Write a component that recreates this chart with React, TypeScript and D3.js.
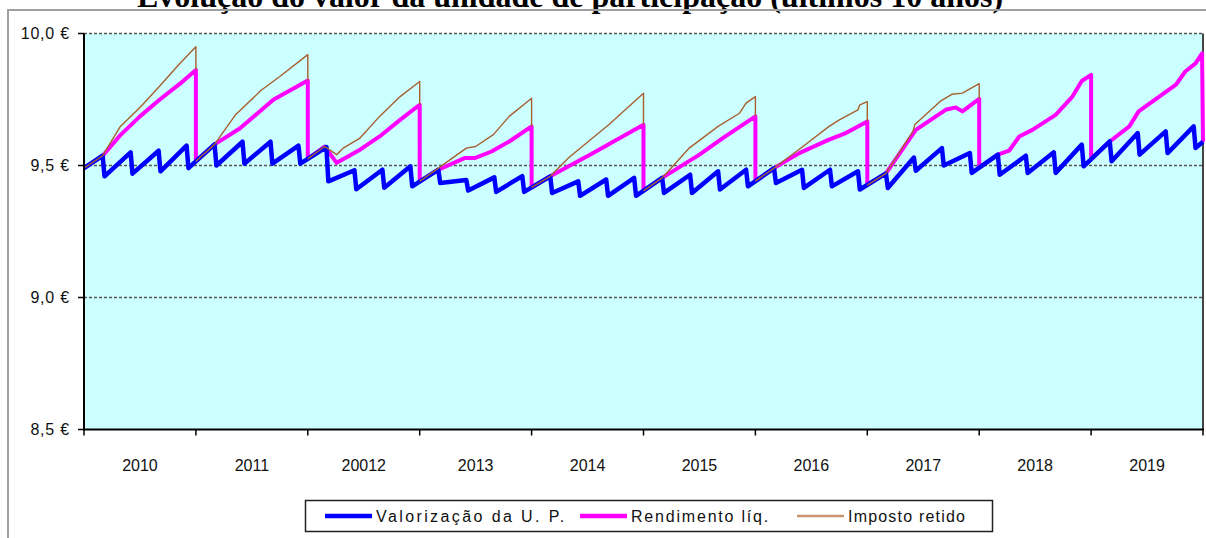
import * as d3 from 'd3';

// time axis is in months since Jan 2010 (0..120)
const yearLabels = ['2010', '2011', '20012', '2013', '2014', '2015', '2016', '2017', '2018', '2019'];
const yTicks = [8.5, 9.0, 9.5, 10.0];
const gridValues = [9.0, 9.5, 10.0];

// Valorização da U. P. : quarterly sawtooth, peak before each distribution and low after it
const blueStart = 9.49;
const blueEnd = 9.59;
const bluePeaks = [
  9.537, 9.55, 9.556, 9.575,
  9.58, 9.59, 9.59, 9.575,
  9.57, 9.482, 9.484, 9.497,
  9.484, 9.445, 9.455, 9.46,
  9.459, 9.44, 9.447, 9.453,
  9.453, 9.465, 9.478, 9.484,
  9.49, 9.484, 9.484, 9.478,
  9.47, 9.53, 9.566, 9.547,
  9.541, 9.537, 9.55, 9.579,
  9.591, 9.623, 9.629, 9.648,
];
const blueLows = [
  9.459, 9.469, 9.478, 9.49,
  9.5, 9.507, 9.507, 9.507,
  9.44, 9.41, 9.416, 9.421,
  9.434, 9.405, 9.4, 9.4,
  9.396, 9.385, 9.385, 9.385,
  9.396, 9.396, 9.409, 9.421,
  9.434, 9.415, 9.421, 9.409,
  9.415, 9.48, 9.5, 9.472,
  9.465, 9.472, 9.472, 9.497,
  9.516, 9.541, 9.547, 9.566,
];

// Rendimento líq. : [month, value]
const pinkData: [number, number][] = [
  [0, 9.49], [2, 9.537], [3.9, 9.615], [6, 9.686], [8.1, 9.749], [10.3, 9.81], [12, 9.862],
  [12, 9.516], [14, 9.58], [16.7, 9.64], [20.3, 9.749], [24, 9.822],
  [24, 9.525], [25.8, 9.572], [27.1, 9.51], [29.6, 9.56], [31.7, 9.61], [33.9, 9.673], [36, 9.73],
  [36, 9.44], [38, 9.484], [40.8, 9.528], [41.9, 9.528], [43.7, 9.553], [45.6, 9.591], [48, 9.648],
  [48, 9.417], [50, 9.459], [54.6, 9.547], [60, 9.654],
  [60, 9.404], [62, 9.453], [66, 9.541], [68.5, 9.604], [72, 9.686],
  [72, 9.441], [74, 9.49], [76.7, 9.547], [79.9, 9.598], [81.7, 9.623], [84, 9.667],
  [84, 9.426], [86, 9.47], [89.2, 9.635], [92.4, 9.711], [93.5, 9.72], [94.2, 9.705], [96, 9.752],
  [96, 9.492], [98, 9.541], [99.2, 9.556], [100.3, 9.61], [101.7, 9.635], [104.2, 9.692], [106, 9.761], [107, 9.82], [108, 9.843],
  [108, 9.524], [110, 9.591], [112.1, 9.648], [113.1, 9.705], [117.1, 9.806], [118.1, 9.856], [119.2, 9.887], [119.9, 9.925], [120, 9.59],
];

// Imposto retido : one run per year (2010-2017), ending on the net value
const brownData: [number, number][][] = [
  [[0, 9.49], [2, 9.537], [3.9, 9.648], [6, 9.72], [8.1, 9.8], [10.3, 9.887], [12, 9.95], [12, 9.862]],
  [[12, 9.516], [14, 9.58], [16.2, 9.69], [19, 9.785], [21, 9.837], [24, 9.92], [24, 9.822]],
  [[24, 9.525], [25.8, 9.572], [27.1, 9.541], [27.8, 9.566], [29.6, 9.604], [31.7, 9.686], [33.9, 9.761], [36, 9.818], [36, 9.73]],
  [[36, 9.44], [38, 9.49], [41, 9.566], [42, 9.572], [43.9, 9.617], [45.6, 9.686], [48, 9.755], [48, 9.648]],
  [[48, 9.417], [50, 9.459], [52, 9.53], [56.3, 9.655], [60, 9.774], [60, 9.654]],
  [[60, 9.404], [62, 9.453], [64.9, 9.566], [68, 9.648], [70.3, 9.698], [71, 9.736], [72, 9.761], [72, 9.686]],
  [[72, 9.441], [74, 9.49], [77.1, 9.572], [79.9, 9.648], [81, 9.673], [83, 9.711], [83.2, 9.73], [84, 9.742], [84, 9.667]],
  [[84, 9.426], [86, 9.47], [88.9, 9.63], [89.1, 9.655], [91.9, 9.745], [93.1, 9.77], [94.2, 9.774], [96, 9.81], [96, 9.752]],
];

const legendItems = [
  { label: 'Valorização da U. P.', color: '#0000ff', w: 4.5 },
  { label: 'Rendimento líq.', color: '#ff00ff', w: 4.5 },
  { label: 'Imposto retido', color: '#c8946e', w: 2.5 },
];

const App = () => {
  const width = 1206;
  const height = 538;
  const left = 84;
  const right = 1203;
  const top = 33.5;
  const bottom = 429.5;

  const x = d3.scaleLinear().domain([0, 120]).range([left, right]);
  const y = d3.scaleLinear().domain([8.5, 10]).range([bottom, top]);
  const line = d3.line<[number, number]>().x(d => x(d[0])).y(d => y(d[1]));

  const blue: [number, number][] = [[0, blueStart]];
  bluePeaks.forEach((p, k) => {
    blue.push([2 + 3 * k, p]);
    blue.push([2.2 + 3 * k, blueLows[k]]);
  });
  blue.push([120, blueEnd]);

  const font = 'Arial, "Liberation Sans", sans-serif';
  const legendX = [325, 580, 797];
  const legendSpacing = [2.4, 1.8, 1.2];

  return (
    <svg width={width} height={height} style={{ position: 'absolute', left: 0, top: 0 }}>
      <rect x={0} y={0} width={width} height={height} fill="#fff" />
      <text x={570} y={6.5} textAnchor="middle" fontFamily='"Times New Roman", "Liberation Serif", serif'
        fontWeight="bold" fontSize={32} fill="#000">
        Evolução do valor da unidade de participação (últimos 10 anos)
      </text>
      <rect x={8} y={10} width={1220} height={560} fill="none" stroke="#a0a0a0" strokeWidth={2} />

      <rect x={left} y={top} width={right - left} height={bottom - top} fill="#ccffff" />
      {gridValues.map(v => (
        <line key={v} x1={left} x2={right} y1={y(v)} y2={y(v)} stroke="#555" strokeWidth={1.6} strokeDasharray="3,2" />
      ))}
      <line x1={right} x2={right} y1={top} y2={bottom} stroke="#444" strokeWidth={2} />

      <g fill="none" strokeLinejoin="round">
        <path d={line(pinkData) ?? ''} stroke="#ff00ff" strokeWidth={4} />
        <path d={line(blue) ?? ''} stroke="#0000ff" strokeWidth={4.5} />
        {brownData.map((seg, i) => (
          <path key={i} d={line(seg) ?? ''} stroke="#a85f30" strokeWidth={1.4} />
        ))}
      </g>

      <line x1={left} x2={left} y1={top} y2={bottom + 1} stroke="#000" strokeWidth={2} />
      <line x1={left} x2={right + 1} y1={bottom} y2={bottom} stroke="#000" strokeWidth={2} />

      {yTicks.map(v => (
        <g key={v}>
          <line x1={left - 6} x2={left} y1={y(v)} y2={y(v)} stroke="#000" strokeWidth={1.5} />
          <text x={70} y={y(v) + 5.5} textAnchor="end" fontFamily={font} fontSize={16} letterSpacing={0.8} fill="#111">
            {d3.format('.1f')(v).replace('.', ',')} €
          </text>
        </g>
      ))}

      {d3.range(11).map(i => (
        <line key={i} x1={x(i * 12)} x2={x(i * 12)} y1={bottom} y2={bottom + 6} stroke="#000" strokeWidth={1.5} />
      ))}
      {yearLabels.map((lab, i) => (
        <text key={lab} x={x(i * 12 + 6)} y={471} textAnchor="middle" fontFamily={font} fontSize={16} fill="#111">
          {lab}
        </text>
      ))}

      <rect x={305.5} y={500.5} width={687} height={31} fill="#fff" stroke="#222" strokeWidth={1.5} />
      {legendItems.map((it, i) => (
        <g key={it.label}>
          <line x1={legendX[i]} x2={legendX[i] + 47} y1={516} y2={516} stroke={it.color} strokeWidth={it.w} />
          <text x={legendX[i] + 51} y={521.5} fontFamily={font} fontSize={16} letterSpacing={legendSpacing[i]} fill="#111">
            {it.label}
          </text>
        </g>
      ))}
    </svg>
  );
};

export default App;
